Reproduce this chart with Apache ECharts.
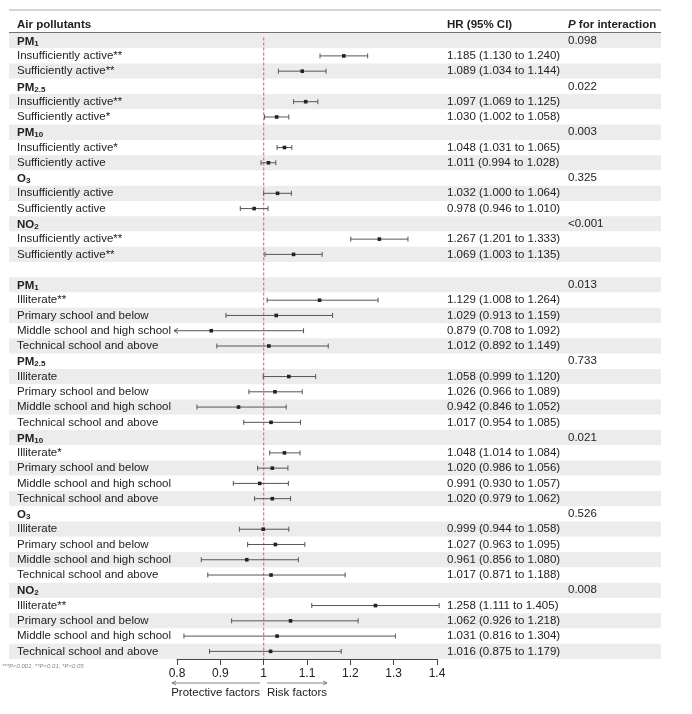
<!DOCTYPE html>
<html>
<head>
  <meta charset="utf-8">
  <script src="https://cdn.jsdelivr.net/npm/echarts@6.0.0/dist/echarts.min.js"></script>
  <style>
    body {
      margin: 0;
      padding: 0;
      background-color: white;
    }
    #main {
      width: 692px;
      height: 714px;
    }
  </style>
  <title>Forest plot</title>
</head>
<body>
<div id="main"></div>
<script>
  // one entry per table row, top to bottom ('_' marks a subscript)
  var rowLabels = [
    'PM_1', 'Insufficiently active**', 'Sufficiently active**',
    'PM_2.5', 'Insufficiently active**', 'Sufficiently active*',
    'PM_10', 'Insufficiently active*', 'Sufficiently active',
    'O_3', 'Insufficiently active', 'Sufficiently active',
    'NO_2', 'Insufficiently active**', 'Sufficiently active**',
    '',
    'PM_1', 'Illiterate**', 'Primary school and below', 'Middle school and high school', 'Technical school and above',
    'PM_2.5', 'Illiterate', 'Primary school and below', 'Middle school and high school', 'Technical school and above',
    'PM_10', 'Illiterate*', 'Primary school and below', 'Middle school and high school', 'Technical school and above',
    'O_3', 'Illiterate', 'Primary school and below', 'Middle school and high school', 'Technical school and above',
    'NO_2', 'Illiterate**', 'Primary school and below', 'Middle school and high school', 'Technical school and above'
  ];
  var hr = [
    null, 1.185, 1.089, null, 1.097, 1.030, null, 1.048, 1.011, null, 1.032, 0.978, null, 1.267, 1.069,
    null,
    null, 1.129, 1.029, 0.879, 1.012, null, 1.058, 1.026, 0.942, 1.017, null, 1.048, 1.020, 0.991, 1.020,
    null, 0.999, 1.027, 0.961, 1.017, null, 1.258, 1.062, 1.031, 1.016
  ];
  var ciLow = [
    null, 1.130, 1.034, null, 1.069, 1.002, null, 1.031, 0.994, null, 1.000, 0.946, null, 1.201, 1.003,
    null,
    null, 1.008, 0.913, 0.708, 0.892, null, 0.999, 0.966, 0.846, 0.954, null, 1.014, 0.986, 0.930, 0.979,
    null, 0.944, 0.963, 0.856, 0.871, null, 1.111, 0.926, 0.816, 0.875
  ];
  var ciHigh = [
    null, 1.240, 1.144, null, 1.125, 1.058, null, 1.065, 1.028, null, 1.064, 1.010, null, 1.333, 1.135,
    null,
    null, 1.264, 1.159, 1.092, 1.149, null, 1.120, 1.089, 1.052, 1.085, null, 1.084, 1.056, 1.057, 1.062,
    null, 1.058, 1.095, 1.080, 1.188, null, 1.405, 1.218, 1.304, 1.179
  ];
  var pInteraction = [
    '0.098', '', '', '0.022', '', '', '0.003', '', '', '0.325', '', '', '<0.001', '', '',
    '',
    '0.013', '', '', '', '', '0.733', '', '', '', '', '0.021', '', '', '', '',
    '0.526', '', '', '', '', '0.008', '', '', '', ''
  ];
  var xTicks = [0.8, 0.9, 1, 1.1, 1.2, 1.3, 1.4];

  var FONT = "'Liberation Sans', Arial, sans-serif";
  var TXT = '#222';
  var nRows = rowLabels.length;

  var rowIds = rowLabels.map(function (d, i) { return String(i); });

  function fmt3(v) { return v.toFixed(3); }
  var hrText = hr.map(function (v, i) {
    if (v == null) return '';
    return fmt3(v) + ' (' + fmt3(ciLow[i]) + ' to ' + fmt3(ciHigh[i]) + ')';
  });

  var forestData = [];
  hr.forEach(function (v, i) {
    if (v != null) forestData.push([ciLow[i], ciHigh[i], v, i]);
  });

  var myChart = echarts.init(document.getElementById('main'));

  var gridTop = 33, gridBottom = 55;

  function textCol(offset, arr) {
    return {
      gridIndex: 0, type: 'category', data: rowIds, inverse: true,
      position: 'right', offset: offset,
      axisLine: { show: false }, axisTick: { show: false },
      splitLine: { show: false }, splitArea: { show: false },
      axisLabel: {
        interval: 0, margin: 0, color: TXT, fontSize: 11.5, fontFamily: FONT,
        formatter: function (v, i) { return arr[i]; }
      }
    };
  }

  myChart.setOption({
    animation: false,
    textStyle: { fontFamily: FONT },
    grid: [
      { left: 9, right: 31, top: gridTop, bottom: gridBottom },
      { left: 177, right: 255, top: gridTop, bottom: gridBottom }
    ],
    xAxis: [
      { gridIndex: 0, type: 'value', show: false, min: 0, max: 1 },
      {
        gridIndex: 1, type: 'value', min: 0.8, max: 1.4, interval: 0.1,
        position: 'bottom',
        splitLine: { show: false },
        axisLine: { show: true, onZero: false, lineStyle: { color: '#444', width: 1 } },
        axisTick: { show: true, length: 6, lineStyle: { color: '#444' } },
        axisLabel: {
          color: TXT, fontSize: 12, fontFamily: FONT, margin: 9,
          formatter: function (v) {
            var t = xTicks.find(function (x) { return Math.abs(x - v) < 1e-6; });
            return t == null ? '' : String(t);
          }
        }
      }
    ],
    yAxis: [
      {
        gridIndex: 0, type: 'category', data: rowIds, inverse: true,
        axisLine: { show: false }, axisTick: { show: false, interval: 0 },
        splitLine: { show: false },
        splitArea: { show: true, interval: 0, areaStyle: { color: ['#ececec', '#ffffff'] } },
        axisLabel: {
          interval: 0, inside: true, margin: 8, color: TXT, fontSize: 11.5, fontFamily: FONT,
          formatter: function (v, i) {
            var s = rowLabels[i];
            if (s.indexOf('_') < 0) return s;
            var p = s.split('_');
            return '{b|' + p[0] + '}{s|' + p[1] + '}';
          },
          rich: {
            b: { fontWeight: 'bold', fontSize: 11.5, color: TXT, fontFamily: FONT, verticalAlign: 'bottom', lineHeight: 14 },
            s: { fontWeight: 'bold', fontSize: 8, color: TXT, fontFamily: FONT, verticalAlign: 'bottom', lineHeight: 8 }
          }
        }
      },
      textCol(-214, hrText),
      textCol(-93, pInteraction),
      {
        gridIndex: 1, type: 'value', min: -0.5, max: nRows - 0.5, inverse: true, show: false
      }
    ],
    series: [
      {
        // reference line at HR = 1
        type: 'line',
        xAxisIndex: 1,
        yAxisIndex: 3,
        silent: true,
        symbol: 'none',
        data: [[1, -0.2], [1, nRows - 0.5]],
        lineStyle: { color: '#e0707c', type: [3, 2], width: 1.2 },
        z: 1
      },
      {
        type: 'custom',
        xAxisIndex: 1,
        yAxisIndex: 3,
        clip: false,
        z: 3,
        data: forestData,
        encode: { x: [0, 1, 2], y: 3 },
        renderItem: function (params, api) {
          var row = api.value(3);
          var y = api.coord([1, row])[1];
          var xMin = api.coord([0.8, row])[0];
          var xl = api.coord([api.value(0), row])[0];
          var xh = api.coord([api.value(1), row])[0];
          var xp = api.coord([api.value(2), row])[0];
          var col = '#555';
          var kids = [];
          var clipped = xl < xMin;
          var start = clipped ? xMin - 3 : xl;
          kids.push({ type: 'line', shape: { x1: start, y1: y, x2: xh, y2: y }, style: { stroke: col, lineWidth: 1 } });
          kids.push({ type: 'line', shape: { x1: xh, y1: y - 2.5, x2: xh, y2: y + 2.5 }, style: { stroke: col, lineWidth: 1 } });
          if (clipped) {
            kids.push({ type: 'polyline', shape: { points: [[start + 4, y - 2.5], [start, y], [start + 4, y + 2.5]] }, style: { stroke: col, lineWidth: 1, fill: null } });
          } else {
            kids.push({ type: 'line', shape: { x1: xl, y1: y - 2.5, x2: xl, y2: y + 2.5 }, style: { stroke: col, lineWidth: 1 } });
          }
          kids.push({ type: 'rect', shape: { x: xp - 1.8, y: y - 1.8, width: 3.6, height: 3.6 }, style: { fill: '#222' } });
          return { type: 'group', children: kids };
        }
      }
    ],
    graphic: [
      { type: 'line', shape: { x1: 9, y1: 10, x2: 661, y2: 10 }, style: { stroke: '#aaa', lineWidth: 1 } },
      { type: 'line', shape: { x1: 9, y1: 33, x2: 661, y2: 33 }, style: { stroke: '#444', lineWidth: 1.5 } },
      { type: 'text', left: 17, top: 19, style: { text: 'Air pollutants', fontWeight: 'bold', fontSize: 11.5, fill: TXT, fontFamily: FONT } },
      { type: 'text', left: 447, top: 19, style: { text: 'HR (95% CI)', fontWeight: 'bold', fontSize: 11.5, fill: TXT, fontFamily: FONT } },
      {
        type: 'text', left: 568, top: 19,
        style: {
          text: '{i|P} for interaction', fontWeight: 'bold', fontSize: 11.5, fill: TXT, fontFamily: FONT,
          rich: { i: { fontStyle: 'italic', fontWeight: 'bold', fontSize: 11.5, fill: TXT, fontFamily: FONT } }
        }
      },
      { type: 'text', left: 2, top: 663, style: { text: '***P<0.001, **P<0.01, *P<0.05', fontSize: 6, fontStyle: 'italic', fill: '#888', fontFamily: FONT } },
      { type: 'text', x: 260, y: 687, style: { text: 'Protective factors', fontSize: 11.5, fill: TXT, fontFamily: FONT, align: 'right' } },
      { type: 'text', x: 267, y: 687, style: { text: 'Risk factors', fontSize: 11.5, fill: TXT, fontFamily: FONT, align: 'left' } },
      { type: 'line', shape: { x1: 172, y1: 683, x2: 260, y2: 683 }, style: { stroke: '#666', lineWidth: 0.8 } },
      { type: 'polyline', shape: { points: [[176, 681], [172, 683], [176, 685]] }, style: { stroke: '#666', lineWidth: 0.8, fill: null } },
      { type: 'line', shape: { x1: 267, y1: 683, x2: 327, y2: 683 }, style: { stroke: '#666', lineWidth: 0.8 } },
      { type: 'polyline', shape: { points: [[323, 681], [327, 683], [323, 685]] }, style: { stroke: '#666', lineWidth: 0.8, fill: null } }
    ]
  });
</script>
</body>
</html>
